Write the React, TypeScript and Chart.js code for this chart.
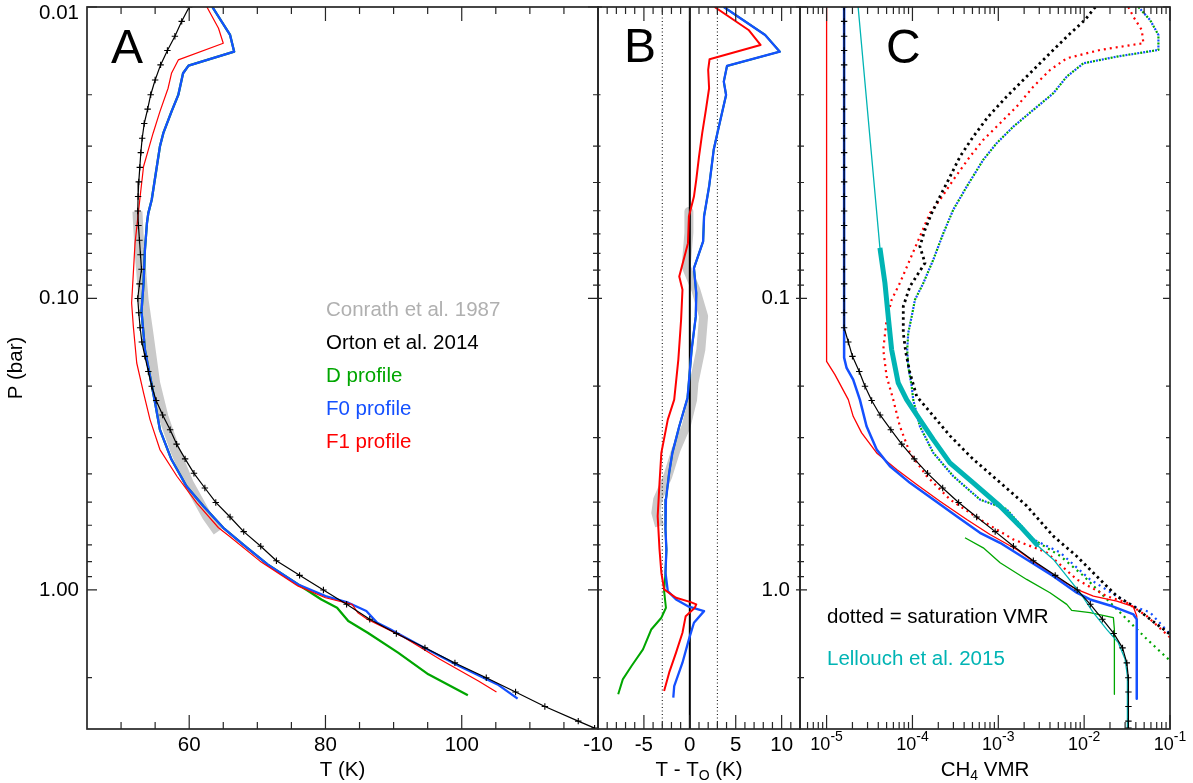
import React, { useEffect, useRef } from "react";
import { Chart, registerables } from "chart.js";

Chart.register(...registerables);

// ---------------- shared pressure axis ----------------
const pressureMin = 0.01;
const pressureMax = 3;
const pressureMajor = [0.01, 0.1, 1];
const pressureMinor = [0.02, 0.03, 0.04, 0.05, 0.06, 0.07, 0.08, 0.09, 0.2, 0.3, 0.4, 0.5, 0.6, 0.7, 0.8, 0.9, 2];
const pressureLabelsA = ["0.01", "0.10", "1.00"];
const pressureLabelValsC = [0.1, 1];
const pressureLabelsC = ["0.1", "1.0"];

// ---------------- panel A axis ----------------
const tempMin = 45;
const tempMax = 120;
const tempMajor = [60, 80, 100];
const tempMinor = [50, 55, 65, 70, 75, 85, 90, 95, 105, 110, 115];
const tempLabels = ["60", "80", "100"];

// ---------------- panel B axis ----------------
const diffMin = -10;
const diffMax = 12;
const diffMajor = [-10, -5, 0, 5, 10];
const diffMinor = [-9, -8, -7, -6, -4, -3, -2, -1, 1, 2, 3, 4, 6, 7, 8, 9, 11];
const diffLabels = ["-10", "-5", "0", "5", "10"];
const diffRefDotted = [-3, 3];
const diffRefSolid = [0];

// ---------------- panel C axis ----------------
const vmrMin = 4.9e-6;
const vmrMax = 0.1;
const vmrMajor = [1e-5, 1e-4, 1e-3, 1e-2, 1e-1];
const vmrMinor = [
  6e-6, 7e-6, 8e-6, 9e-6,
  2e-5, 3e-5, 4e-5, 5e-5, 6e-5, 7e-5, 8e-5, 9e-5,
  2e-4, 3e-4, 4e-4, 5e-4, 6e-4, 7e-4, 8e-4, 9e-4,
  2e-3, 3e-3, 4e-3, 5e-3, 6e-3, 7e-3, 8e-3, 9e-3,
  2e-2, 3e-2, 4e-2, 5e-2, 6e-2, 7e-2, 8e-2, 9e-2,
];
const vmrExponents = ["-5", "-4", "-3", "-2", "-1"];

// ---------------- Orton et al. 2014 (levels, T, CH4) ----------------
const ortonP = [
  0.01, 0.0112, 0.0126, 0.0141, 0.0158, 0.0178, 0.02, 0.0224, 0.0251, 0.0282,
  0.0316, 0.0355, 0.0398, 0.0447, 0.0501, 0.0562, 0.0631, 0.0708, 0.0794, 0.0891,
  0.1, 0.112, 0.126, 0.141, 0.158, 0.178, 0.2, 0.224, 0.251, 0.282,
  0.316, 0.355, 0.398, 0.447, 0.501, 0.562, 0.631, 0.708, 0.794, 0.891,
  1.0, 1.12, 1.26, 1.41, 1.58, 1.78, 2.0, 2.24, 2.51, 2.82, 2.98,
];
const ortonT = [
  60.0, 58.9, 57.9, 56.8, 55.8, 55.0, 54.35, 53.9, 53.4, 53.1,
  52.9, 52.75, 52.6, 52.5, 52.45, 52.55, 52.7, 52.85, 53.0, 52.7,
  52.45, 52.6, 52.8, 53.05, 53.5, 54.0, 54.5, 55.15, 56.1, 57.2,
  58.15, 59.4, 60.7, 62.3, 63.9, 66.0, 68.0, 70.5, 72.8, 76.2,
  79.7, 83.1, 86.5, 90.4, 94.6, 99.0, 103.6, 107.9, 112.2, 117.1, 119.5,
];
const ortonCH4 = [
  1.6e-5, 1.6e-5, 1.6e-5, 1.6e-5, 1.6e-5, 1.6e-5, 1.6e-5, 1.6e-5, 1.6e-5, 1.6e-5,
  1.6e-5, 1.6e-5, 1.6e-5, 1.6e-5, 1.6e-5, 1.6e-5, 1.6e-5, 1.6e-5, 1.6e-5, 1.6e-5,
  1.6e-5, 1.6e-5, 1.6e-5, 1.79e-5, 2.0e-5, 2.4e-5, 2.8e-5, 3.35e-5, 4.2e-5, 5.6e-5,
  7.5e-5, 1.05e-4, 1.5e-4, 2.25e-4, 3.45e-4, 5.6e-4, 9.2e-4, 1.5e-3, 2.56e-3, 4.6e-3,
  8.3e-3, 0.0118, 0.0163, 0.0221, 0.028, 0.0314, 0.0327, 0.0328, 0.0328, 0.0328, 0.0328,
];

// ---------------- Conrath et al. 1987 ----------------
const conrathP = [0.0503, 0.0681, 0.101, 0.1314, 0.1949, 0.2537, 0.33, 0.4291, 0.5585, 0.6304];
const conrathT = [52.4, 52.7, 53.3, 54.0, 55.0, 56.2, 57.9, 59.9, 62.6, 64.2];
const conrathDiffP = [0.0503, 0.0595, 0.0777, 0.0933, 0.1152, 0.1498, 0.1949, 0.2223, 0.2745, 0.33, 0.4073, 0.4897, 0.5438, 0.6043];
const conrathDiff = [-0.1, -0.1, -0.4, 0.65, 1.5, 1.2, 0.45, 0.3, -0.4, -1.5, -2.4, -3.5, -3.7, -3.3];

// ---------------- Panel A: temperature profiles ----------------
const tempF0P = [0.01, 0.01247, 0.01423, 0.01589, 0.01688, 0.02003, 0.02285, 0.0271, 0.03012, 0.04586, 0.05095, 0.0551, 0.0681, 0.0885, 0.1108, 0.1498, 0.185, 0.2283, 0.2818, 0.357, 0.4408, 0.5163, 0.6119, 0.7078, 0.8177, 0.9575, 1.0501, 1.1061, 1.1816, 1.2955, 1.3657, 1.558, 1.8245, 2.1086, 2.36];
const tempF0T = [63.4, 66.0, 66.6, 59.9, 59.1, 58.4, 57.4, 56.2, 55.7, 54.5, 54.0, 53.8, 53.5, 53.3, 53.0, 53.5, 54.25, 55.0, 55.7, 57.4, 59.6, 62.1, 65.0, 68.2, 71.5, 76.0, 80.0, 83.35, 86.0, 87.6, 89.5, 94.0, 99.6, 105.25, 108.2];
const tempDP = [0.01, 0.01247, 0.01423, 0.01589, 0.01688, 0.02003, 0.02285, 0.0271, 0.03012, 0.04586, 0.05095, 0.0551, 0.0681, 0.0885, 0.1108, 0.1498, 0.185, 0.2283, 0.2818, 0.357, 0.4408, 0.5163, 0.6119, 0.7078, 0.8177, 0.9575, 1.078, 1.151, 1.279, 1.402, 1.641, 1.948, 2.299];
const tempDT = [63.4, 66.0, 66.6, 59.9, 59.1, 58.4, 57.4, 56.2, 55.7, 54.5, 54.0, 53.8, 53.5, 53.3, 53.0, 53.5, 54.25, 55.0, 55.7, 57.4, 59.6, 62.1, 65.0, 68.2, 71.5, 76.0, 79.4, 81.7, 83.35, 86.2, 90.65, 95.1, 100.9];
const tempF1P = [0.01, 0.01183, 0.01331, 0.01519, 0.01688, 0.019, 0.02285, 0.0271, 0.0309, 0.03526, 0.04468, 0.0646, 0.0818, 0.1037, 0.1247, 0.1665, 0.2109, 0.2604, 0.3299, 0.4073, 0.5026, 0.6119, 0.654, 0.7966, 0.9704, 1.0634, 1.1211, 1.1971, 1.262, 1.44, 1.73, 2.054, 2.24];
const tempF1T = [62.6, 64.3, 65.0, 58.4, 57.4, 56.9, 55.7, 54.7, 54.0, 53.3, 52.8, 52.05, 51.8, 51.55, 51.8, 52.3, 53.3, 54.25, 55.7, 58.2, 61.1, 64.3, 65.9, 70.4, 76.0, 80.0, 83.9, 84.75, 86.2, 91.2, 96.8, 102.45, 105.1];

// ---------------- Panel B: T - T_O ----------------
const diffF0P = [0.01, 0.01247, 0.01423, 0.01593, 0.01803, 0.02003, 0.0271, 0.0309, 0.0413, 0.0523, 0.0637, 0.0787, 0.0958, 0.1152, 0.1498, 0.2194, 0.2745, 0.3387, 0.3965, 0.4897, 0.6202, 0.7264, 0.873, 1.0095, 1.078, 1.1418, 1.1822, 1.2956, 1.478, 1.777, 2.137, 2.342];
const diffF0 = [3.7, 8.2, 9.8, 4.05, 3.7, 3.95, 3.0, 2.6, 2.1, 1.55, 1.45, 0.45, 0.7, 0.65, 0.2, -0.25, -1.15, -1.9, -2.25, -2.6, -2.65, -2.55, -2.65, -2.4, -1.5, -0.1, 1.55, 0.45, -0.1, -0.8, -1.7, -1.8];
const diffDP = [0.01, 0.01247, 0.01423, 0.01593, 0.01803, 0.02003, 0.0271, 0.0309, 0.0413, 0.0523, 0.0637, 0.0787, 0.0958, 0.1152, 0.1498, 0.2194, 0.2745, 0.3387, 0.3965, 0.4897, 0.6202, 0.7264, 0.873, 1.0095, 1.151, 1.246, 1.367, 1.599, 1.8245, 2.027, 2.281];
const diffD = [3.7, 8.2, 9.8, 4.05, 3.7, 3.95, 3.0, 2.6, 2.1, 1.55, 1.45, 0.45, 0.7, 0.65, 0.2, -0.25, -1.15, -1.9, -2.25, -2.6, -2.65, -2.55, -2.65, -2.8, -2.6, -3.1, -4.2, -5.1, -6.35, -7.3, -7.8];
const diffF1P = [0.01, 0.01199, 0.0135, 0.01511, 0.01644, 0.019, 0.02254, 0.0271, 0.0326, 0.0392, 0.0447, 0.0523, 0.0646, 0.084, 0.0933, 0.1183, 0.1621, 0.2223, 0.2604, 0.3387, 0.4291, 0.5585, 0.7264, 0.873, 0.996, 1.0634, 1.1011, 1.1211, 1.151, 1.23, 1.402, 1.6415, 1.922, 2.223];
const diffF1 = [2.7, 6.4, 7.7, 2.15, 2.0, 2.1, 1.75, 1.35, 1.0, 0.7, 0.45, -0.1, -0.2, -1.15, -0.8, -0.95, -1.25, -1.7, -2.4, -3.1, -3.3, -3.5, -3.3, -3.1, -2.8, -1.5, 0.1, 0.7, 0.55, -0.45, -0.8, -1.5, -2.25, -2.8];

// ---------------- Panel C: CH4 VMR ----------------
const ch4F1P = [0.01, 0.1644, 0.1825, 0.2223, 0.2537, 0.2892, 0.3387, 0.3863, 0.4349, 0.4962, 0.5732, 0.6452, 0.7264, 0.8286, 0.9204, 0.996, 1.0503, 1.0925, 1.1418, 1.23, 2.24];
const ch4F1 = [1e-5, 1e-5, 1.25e-5, 1.79e-5, 2.04e-5, 2.56e-5, 3.83e-5, 6.55e-5, 1.12e-4, 2.09e-4, 4.29e-4, 8.0e-4, 1.64e-3, 3.06e-3, 5.24e-3, 8.2e-3, 0.0128, 0.024, 0.0374, 0.041, 0.041];
const ch4F0P = [0.01, 0.1596, 0.1731, 0.19, 0.2223, 0.2745, 0.33, 0.3764, 0.4291, 0.4897, 0.5585, 0.6367, 0.689, 0.786, 0.897, 1.0224, 1.078, 1.1303, 1.2136, 1.262, 2.36];
const ch4F0 = [1.6e-5, 1.6e-5, 1.71e-5, 2.04e-5, 2.44e-5, 2.92e-5, 3.83e-5, 5.47e-5, 9.35e-5, 1.75e-4, 3.27e-4, 6.12e-4, 1.047e-3, 2.14e-3, 4.38e-3, 8.2e-3, 0.0117, 0.02, 0.0375, 0.041, 0.041];
const ch4DP = [0.6624, 0.717, 0.807, 0.9204, 1.0224, 1.121, 1.176, 1.197, 1.245, 1.366, 2.281];
const ch4D = [4.09e-4, 6.68e-4, 1.05e-3, 2.14e-3, 4.0e-3, 6.27e-3, 7.16e-3, 0.0117, 0.0219, 0.0225, 0.0225];
const lellouchP = [0.01, 0.0671, 0.0885, 0.1152, 0.1498, 0.1949, 0.2223, 0.2604, 0.305, 0.3664, 0.4291, 0.5163, 0.6043, 0.7078, 0.786, 0.897, 1.0224, 1.197, 1.366, 1.517, 1.73, 1.974, 3.0];
const lellouchVMR = [2.33e-5, 4.18e-5, 4.78e-5, 5.22e-5, 5.72e-5, 6.83e-5, 8.55e-5, 1.22e-4, 1.75e-4, 2.73e-4, 5.11e-4, 1.05e-3, 1.79e-3, 2.92e-3, 4.38e-3, 6.27e-3, 8.95e-3, 0.0128, 0.0183, 0.025, 0.03, 0.0319, 0.0319];
const lellouchThickRange = [0.0671, 0.7078];

// saturation VMR (dotted)
const satOrtonP = [0.01, 0.01108, 0.01264, 0.0148, 0.01733, 0.0203, 0.02377, 0.02784, 0.0326, 0.0382, 0.0447, 0.0509, 0.0581, 0.0663, 0.0756, 0.0909, 0.1065, 0.1314, 0.1538, 0.18, 0.2166, 0.2529, 0.2961, 0.3562, 0.428, 0.5146, 0.654, 0.766, 0.9204, 1.0503, 1.1364, 1.26, 1.417];
const satOrton = [0.0135, 0.0102, 6.27e-3, 3.66e-3, 2.14e-3, 1.25e-3, 7.63e-4, 5.11e-4, 3.58e-4, 2.74e-4, 2.09e-4, 1.68e-4, 1.4e-4, 1.22e-4, 1.4e-4, 9.35e-5, 7.82e-5, 7.82e-5, 8.39e-5, 9.35e-5, 1.12e-4, 1.75e-4, 2.74e-4, 5.11e-4, 1.05e-3, 2.14e-3, 4.38e-3, 8.2e-3, 0.0153, 0.024, 0.0374, 0.0586, 0.1];
const satF1P = [0.01, 0.01079, 0.012, 0.01331, 0.01404, 0.015, 0.01644, 0.01876, 0.02196, 0.02504, 0.02857, 0.0326, 0.0392, 0.0459, 0.0509, 0.0613, 0.0736, 0.0885, 0.101, 0.1183, 0.1498, 0.185, 0.2223, 0.2745, 0.3387, 0.4073, 0.4897, 0.5732, 0.6713, 0.7438, 0.9204, 1.0503, 1.1063, 1.23, 1.455];
const satF1 = [0.0327, 0.0374, 0.0469, 0.049, 0.0153, 6.27e-3, 4.01e-3, 2.56e-3, 1.64e-3, 1.05e-3, 6.68e-4, 4.68e-4, 2.99e-4, 2.09e-4, 1.6e-4, 1.22e-4, 9.35e-5, 7.14e-5, 5.73e-5, 5.0e-5, 4.57e-5, 5.0e-5, 5.97e-5, 7.14e-5, 9.35e-5, 1.47e-4, 2.74e-4, 6.12e-4, 1.5e-3, 3.66e-3, 8.2e-3, 0.0183, 0.0314, 0.0537, 0.1];
const satF0P = [0.01, 0.01108, 0.01247, 0.01404, 0.0148, 0.0156, 0.01733, 0.01976, 0.02254, 0.02572, 0.02932, 0.03344, 0.0413, 0.0496, 0.0597, 0.0736, 0.0885, 0.101, 0.1152, 0.1314, 0.1498, 0.171, 0.2001, 0.2223, 0.2745, 0.3387, 0.4073, 0.4897, 0.5284, 0.6713, 0.7438, 0.9204, 1.0503, 1.1364, 1.1944, 1.417];
const satF0 = [0.0429, 0.0586, 0.0733, 0.0733, 0.024, 9.8e-3, 6.27e-3, 4.38e-3, 2.56e-3, 1.5e-3, 9.57e-4, 6.68e-4, 4.29e-4, 2.99e-4, 2.29e-4, 1.75e-4, 1.34e-4, 1.07e-4, 9.8e-5, 8.93e-5, 8.69e-5, 8.93e-5, 9.8e-5, 1.02e-4, 1.22e-4, 1.75e-4, 2.99e-4, 6.12e-4, 1.25e-3, 2.56e-3, 5.24e-3, 0.0117, 0.024, 0.0374, 0.0586, 0.1];
const satDP = [0.01, 0.01108, 0.01247, 0.01404, 0.0148, 0.0156, 0.01733, 0.01976, 0.02254, 0.02572, 0.02932, 0.03344, 0.0413, 0.0496, 0.0597, 0.0736, 0.0885, 0.101, 0.1152, 0.1314, 0.1498, 0.171, 0.2001, 0.2223, 0.2745, 0.3387, 0.4073, 0.4897, 0.5284, 0.6713, 0.7636, 0.894, 1.0753, 1.26, 1.4745, 1.749];
const satD = [0.0429, 0.0586, 0.0733, 0.0733, 0.024, 9.8e-3, 6.27e-3, 4.38e-3, 2.56e-3, 1.5e-3, 9.57e-4, 6.68e-4, 4.29e-4, 2.99e-4, 2.29e-4, 1.75e-4, 1.34e-4, 1.07e-4, 9.8e-5, 8.93e-5, 8.69e-5, 8.93e-5, 9.8e-5, 1.02e-4, 1.22e-4, 1.75e-4, 2.99e-4, 6.12e-4, 1.25e-3, 2.56e-3, 5.24e-3, 9.8e-3, 0.0183, 0.0314, 0.0537, 0.1];

// ---------------- legend texts ----------------
const legendTexts = ["Conrath et al. 1987", "Orton et al. 2014", "D profile", "F0 profile", "F1 profile"];

// ---------------- styling ----------------
const W = 1193;
const H = 783;
const FONT = '"Liberation Sans", Arial, Helvetica, sans-serif';
const TXT = 20.5;
const AXIS_COLOR = "#262626";
const GREEN = "#00a600";
const BLUE = "#1450ff";
const RED = "#ff0000";
const CYAN = "#00b4b4";
const GRAY = "#c9c9c9";
const GRAY_TEXT = "#b0b0b0";
const legendColors = [GRAY_TEXT, "#000000", GREEN, BLUE, RED];

const plotTop = 7;
const plotBottom = 729;
const panelAEdges = [87, 598];
const panelBEdges = [598, 800];
const panelCEdges = [800, 1170];

function line(xs: number[], ps: number[], color: string, width: number, extra: any = {}) {
  return {
    data: xs.map((x, i) => ({ x, y: ps[i] })),
    showLine: true,
    borderColor: color,
    backgroundColor: color,
    borderWidth: width,
    pointRadius: 0,
    pointHoverRadius: 0,
    tension: 0,
    fill: false,
    borderCapStyle: "butt",
    borderJoinStyle: "round",
    ...extra,
  };
}

const ortonMarkers = {
  pointRadius: 3.2,
  pointStyle: "cross",
  pointBorderColor: "#000",
  pointBackgroundColor: "#000",
  pointBorderWidth: 1.1,
};

function drawFrame(chart: any, xMajor: number[], xMinor: number[], yLen: number, yMinorLen: number) {
  const { ctx, chartArea: ca } = chart;
  const xs = chart.scales.x;
  const ys = chart.scales.y;
  ctx.save();
  ctx.strokeStyle = AXIS_COLOR;
  ctx.lineWidth = 1.2;
  ctx.beginPath();
  const vTick = (v: number, len: number) => {
    const p = xs.getPixelForValue(v);
    ctx.moveTo(p, ca.bottom);
    ctx.lineTo(p, ca.bottom - len);
    ctx.moveTo(p, ca.top);
    ctx.lineTo(p, ca.top + len);
  };
  const hTick = (v: number, len: number) => {
    const p = ys.getPixelForValue(v);
    ctx.moveTo(ca.left, p);
    ctx.lineTo(ca.left + len, p);
    ctx.moveTo(ca.right, p);
    ctx.lineTo(ca.right - len, p);
  };
  xMajor.forEach((v) => vTick(v, 14));
  xMinor.forEach((v) => vTick(v, 7));
  pressureMajor.forEach((v) => hTick(v, yLen));
  pressureMinor.forEach((v) => hTick(v, yMinorLen));
  ctx.stroke();
  ctx.lineWidth = 1.7;
  ctx.strokeRect(ca.left, ca.top, ca.right - ca.left, ca.bottom - ca.top);
  ctx.restore();
}

type Part = [string, number, number];
function richText(ctx: CanvasRenderingContext2D, parts: Part[], cx: number, cy: number) {
  let total = 0;
  for (const [t, s] of parts) {
    ctx.font = `${s}px ${FONT}`;
    total += ctx.measureText(t).width;
  }
  let x = cx - total / 2;
  ctx.textAlign = "left";
  ctx.textBaseline = "middle";
  for (const [t, s, dy] of parts) {
    ctx.font = `${s}px ${FONT}`;
    ctx.fillText(t, x, cy + dy);
    x += ctx.measureText(t).width;
  }
}

const panelAPlugin = {
  id: "panelA",
  afterDatasetsDraw(chart: any) {
    drawFrame(chart, tempMajor, tempMinor, 10, 5);
    const { ctx, chartArea: ca } = chart;
    const xs = chart.scales.x;
    const ys = chart.scales.y;
    ctx.save();
    ctx.fillStyle = "#000";
    ctx.font = `${TXT}px ${FONT}`;
    ctx.textAlign = "center";
    ctx.textBaseline = "middle";
    tempMajor.forEach((v, i) => ctx.fillText(tempLabels[i], xs.getPixelForValue(v), ca.bottom + 16));
    ctx.textAlign = "right";
    pressureMajor.forEach((v, i) => {
      const p = Math.max(ys.getPixelForValue(v), ca.top + 6);
      ctx.fillText(pressureLabelsA[i], ca.left - 8, p);
    });
    ctx.textAlign = "center";
    ctx.fillText("T (K)", (ca.left + ca.right) / 2, ca.bottom + 41);
    ctx.save();
    ctx.translate(16.5, (ca.top + ca.bottom) / 2);
    ctx.rotate(-Math.PI / 2);
    ctx.fillText("P (bar)", 0, 0);
    ctx.restore();
    ctx.font = `48px ${FONT}`;
    ctx.textAlign = "left";
    ctx.textBaseline = "alphabetic";
    ctx.fillText("A", ca.left + 24, ca.top + 56);
    ctx.font = `${TXT}px ${FONT}`;
    ctx.textBaseline = "middle";
    legendTexts.forEach((t, i) => {
      ctx.fillStyle = legendColors[i];
      ctx.fillText(t, ca.left + 239, ca.top + 303 + i * 33.2);
    });
    ctx.restore();
  },
};

const panelBPlugin = {
  id: "panelB",
  afterDatasetsDraw(chart: any) {
    drawFrame(chart, diffMajor, diffMinor, 4, 2.5);
    const { ctx, chartArea: ca } = chart;
    const xs = chart.scales.x;
    ctx.save();
    ctx.fillStyle = "#000";
    ctx.font = `${TXT}px ${FONT}`;
    ctx.textAlign = "center";
    ctx.textBaseline = "middle";
    diffMajor.forEach((v, i) => ctx.fillText(diffLabels[i], xs.getPixelForValue(v), ca.bottom + 16));
    richText(ctx, [["T - T", TXT, 0], ["O", 14, 6], [" (K)", TXT, 0]], (ca.left + ca.right) / 2, ca.bottom + 41);
    ctx.font = `48px ${FONT}`;
    ctx.textAlign = "left";
    ctx.textBaseline = "alphabetic";
    ctx.fillText("B", ca.left + 26, ca.top + 55);
    ctx.restore();
  },
};

const panelCPlugin = {
  id: "panelC",
  afterDatasetsDraw(chart: any) {
    drawFrame(chart, vmrMajor, vmrMinor, 7, 4);
    const { ctx, chartArea: ca } = chart;
    const xs = chart.scales.x;
    const ys = chart.scales.y;
    ctx.save();
    ctx.fillStyle = "#000";
    vmrMajor.forEach((v, i) => {
      richText(ctx, [["10", 18, 0], [vmrExponents[i], 14, -8]], xs.getPixelForValue(v), ca.bottom + 16);
    });
    ctx.font = `${TXT}px ${FONT}`;
    ctx.textAlign = "right";
    ctx.textBaseline = "middle";
    pressureLabelValsC.forEach((v, i) => ctx.fillText(pressureLabelsC[i], ca.left - 10, ys.getPixelForValue(v)));
    richText(ctx, [["CH", TXT, 0], ["4", 14, 6], [" VMR", TXT, 0]], (ca.left + ca.right) / 2, ca.bottom + 41);
    ctx.font = `48px ${FONT}`;
    ctx.textAlign = "left";
    ctx.textBaseline = "alphabetic";
    ctx.fillText("C", ca.left + 86, ca.top + 56);
    ctx.font = `${TXT}px ${FONT}`;
    ctx.textBaseline = "middle";
    ctx.fillStyle = "#000";
    ctx.fillText("dotted = saturation VMR", ca.left + 27, ca.top + 610);
    ctx.fillStyle = CYAN;
    ctx.fillText("Lellouch et al. 2015", ca.left + 27, ca.top + 652);
    ctx.restore();
  },
};

function makeConfig(edges: number[], xScale: any, datasets: any[], plugin: any) {
  return {
    type: "scatter",
    data: { datasets },
    options: {
      responsive: false,
      animation: false,
      events: [],
      layout: {
        padding: { left: edges[0], right: W - edges[1], top: plotTop, bottom: H - plotBottom },
      },
      plugins: { legend: { display: false }, tooltip: { enabled: false }, title: { display: false } },
      scales: {
        x: { ...xScale, display: false },
        y: { type: "logarithmic", min: pressureMin, max: pressureMax, reverse: true, display: false },
      },
    },
    plugins: [plugin],
  } as any;
}

function configA() {
  const datasets = [
    line(ortonT, ortonP, "#000", 1.2, ortonMarkers),
    line(tempF1T, tempF1P, RED, 1.2),
    line(tempF0T, tempF0P, BLUE, 2.3),
    line(tempDT, tempDP, GREEN, 2.3),
    line(conrathT, conrathP, GRAY, 10),
  ];
  return makeConfig(panelAEdges, { type: "linear", min: tempMin, max: tempMax }, datasets, panelAPlugin);
}

function configB() {
  const datasets = [
    line(diffF1, diffF1P, RED, 2),
    line(diffF0, diffF0P, BLUE, 2.3),
    line(diffD, diffDP, GREEN, 2),
    ...diffRefSolid.map((v) => line([v, v], [pressureMin, pressureMax], "#000", 2)),
    ...diffRefDotted.map((v) => line([v, v], [pressureMin, pressureMax], "#000", 1, { borderDash: [1, 2.5] })),
    line(conrathDiff, conrathDiffP, GRAY, 9),
  ];
  return makeConfig(panelBEdges, { type: "linear", min: diffMin, max: diffMax }, datasets, panelBPlugin);
}

function configC() {
  const thickIdx = lellouchP.map((p, i) => i).filter((i) => lellouchP[i] >= lellouchThickRange[0] && lellouchP[i] <= lellouchThickRange[1]);
  const datasets = [
    line(ortonCH4, ortonP, "#000", 1.2, ortonMarkers),
    line(lellouchVMR, lellouchP, CYAN, 1.3),
    line(thickIdx.map((i) => lellouchVMR[i]), thickIdx.map((i) => lellouchP[i]), CYAN, 5),
    line(ch4F0, ch4F0P, BLUE, 2.5),
    line(ch4F1, ch4F1P, RED, 1.3),
    line(ch4D, ch4DP, GREEN, 1.3),
    line(satOrton, satOrtonP, "#000", 2.8, { borderDash: [2.5, 3.5] }),
    line(satF1, satF1P, RED, 2.2, { borderDash: [2, 4] }),
    line(satF0, satF0P, BLUE, 2.2, { borderDash: [2, 4], borderDashOffset: 3 }),
    line(satD, satDP, GREEN, 2.2, { borderDash: [2, 4] }),
  ];
  return makeConfig(panelCEdges, { type: "logarithmic", min: vmrMin, max: vmrMax }, datasets, panelCPlugin);
}

export default function App() {
  const refA = useRef<HTMLCanvasElement>(null);
  const refB = useRef<HTMLCanvasElement>(null);
  const refC = useRef<HTMLCanvasElement>(null);

  useEffect(() => {
    const charts = [
      new Chart(refA.current as HTMLCanvasElement, configA()),
      new Chart(refB.current as HTMLCanvasElement, configB()),
      new Chart(refC.current as HTMLCanvasElement, configC()),
    ];
    return () => charts.forEach((c) => c.destroy());
  }, []);

  const cs: React.CSSProperties = { position: "absolute", left: 0, top: 0, width: W, height: H };
  return (
    <div style={{ position: "absolute", left: 0, top: 0, width: W, height: H, background: "#fff", overflow: "hidden" }}>
      <canvas ref={refA} width={W} height={H} style={cs} />
      <canvas ref={refB} width={W} height={H} style={cs} />
      <canvas ref={refC} width={W} height={H} style={cs} />
    </div>
  );
}
